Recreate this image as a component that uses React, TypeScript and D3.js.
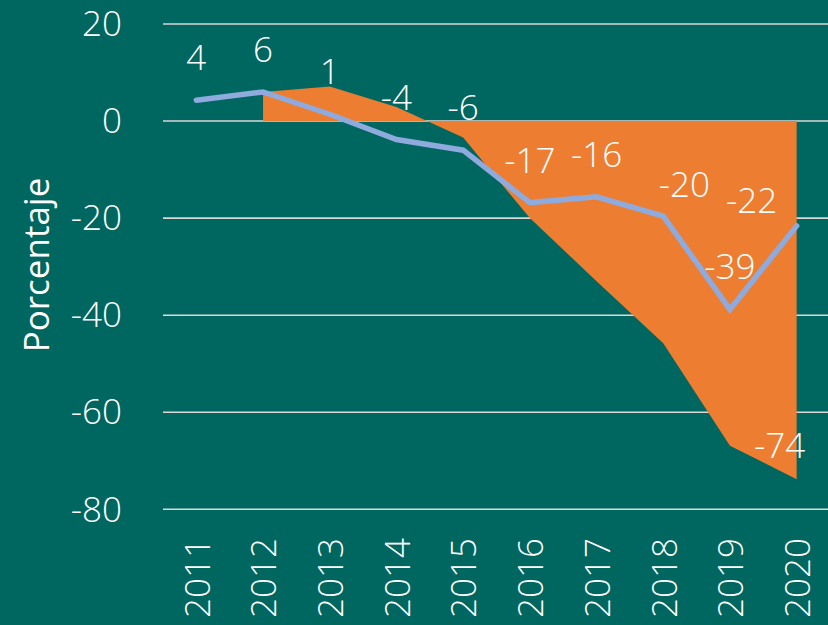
import React, { useEffect } from 'react';
import * as d3 from 'd3';

const years = ['2011', '2012', '2013', '2014', '2015', '2016', '2017', '2018', '2019', '2020'];
// blue line
const lineValues = [4.3, 6, 1.4, -3.8, -6, -16.8, -15.6, -19.6, -38.8, -21.6];
const lineLabels = ['4', '6', '1', '-4', '-6', '-17', '-16', '-20', '-39', '-22'];
// orange area, starts at 2012
const areaYears = ['2012', '2013', '2014', '2015', '2016', '2017', '2018', '2019', '2020'];
const areaValues = [6, 7.1, 2.9, -3.4, -20, -33, -45.8, -66.9, -73.8];
const areaEndLabel = '-74';
const yTicks = [20, 0, -20, -40, -60, -80];

const W = 828;
const H = 625;
const BG = '#006660';
const ORANGE = '#ED7D31';
const BLUE = '#8FAADC';
const FONT = '"Open Sans", "Noto Sans", sans-serif';

// label nudges relative to the point (px)
const labelShift: Record<string, [number, number]> = {
  '2018': [21, -19],
  '2020': [-45, -13],
};

const App: React.FC = () => {
  useEffect(() => {
    document.body.style.margin = '0';
  }, []);

  const x = d3.scalePoint<string>().domain(years).range([163, 830]).padding(0.5);
  const y = d3.scaleLinear().domain([-80, 20]).range([509.3, 24]);

  const area = d3.area<number>()
    .x((d, i) => x(areaYears[i]) || 0)
    .y0(y(0))
    .y1(d => y(d));

  const line = d3.line<number>()
    .x((d, i) => x(years[i]) || 0)
    .y(d => y(d));

  const lastArea = areaValues[areaValues.length - 1];
  const lastX = x(areaYears[areaYears.length - 1]) || 0;

  return (
    <svg width={W} height={H} style={{ display: 'block', background: BG }}>
      <rect width={W} height={H} fill={BG} />
      {yTicks.map(t => (
        <g key={t}>
          <line x1={163} x2={W} y1={y(t)} y2={y(t)} stroke="#d9d9d9" strokeWidth={1.6} />
          <text x={122} y={y(t)} dy="0.35em" textAnchor="end" fill="#fff"
            fontFamily={FONT} fontWeight={300} fontSize={35}>{t}</text>
        </g>
      ))}
      <path d={area(areaValues) || ''} fill={ORANGE} />
      <path d={line(lineValues) || ''} fill="none" stroke={BLUE} strokeWidth={5.5}
        strokeLinecap="round" strokeLinejoin="miter" />
      {lineValues.map((v, i) => {
        const [dx, dy] = labelShift[years[i]] || [0, -30];
        return (
          <text key={years[i]} x={(x(years[i]) || 0) + dx} y={y(v) + dy} textAnchor="middle"
            fill="#fff" fontFamily={FONT} fontWeight={300} fontSize={35}>{lineLabels[i]}</text>
        );
      })}
      <text x={lastX - 17} y={y(lastArea) - 21} textAnchor="middle" fill="#fff"
        fontFamily={FONT} fontWeight={300} fontSize={35}>{areaEndLabel}</text>
      {years.map(yr => (
        <text key={yr} transform={`translate(${(x(yr) || 0) + 1},538) rotate(-90)`}
          dy="0.35em" textAnchor="end" fill="#fff" fontFamily={FONT} fontWeight={300}
          fontSize={35}>{yr}</text>
      ))}
      <text transform="translate(49,265) rotate(-90)" textAnchor="middle" fill="#fff"
        fontFamily={FONT} fontSize={35}>Porcentaje</text>
    </svg>
  );
};

export default App;
